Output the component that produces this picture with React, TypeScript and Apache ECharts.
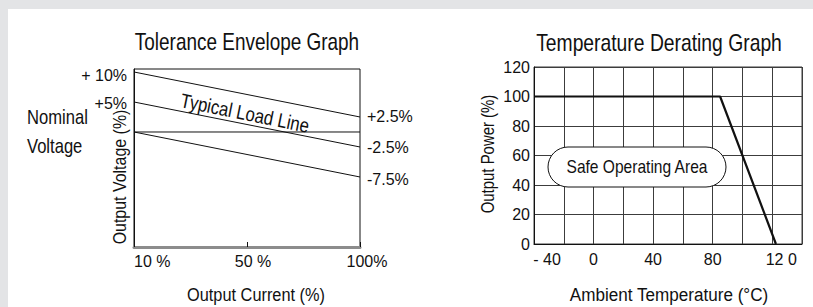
import React, { useEffect, useRef } from "react";
import * as echarts from "echarts";

// ---------- Data ----------
const currentCats = ["10 %", "50 %", "100%"];
const upperLimit = [10, 2.5];
const typicalLoad = [5, -2.5];
const nominal = [0, 0];
const lowerLimit = [0, -7.5];
const upperLabels = ["+ 10%", "+2.5%"];
const typicalLabels = ["+5%", "-2.5%"];
const lowerLabels = ["", "-7.5%"];

const deratingTemp = [-40, 85, 122.5];
const deratingPower = [100, 100, 0];
const tempTickLabels: Record<number, string> = { [-40]: "- 40", 0: "0", 40: "40", 80: "80", 120: "12 0" };

const REG = "'Liberation Sans', Arial, sans-serif";

function envSeries(vals: number[], labels: string[], leftOffset: number, rightOffset: number) {
  return {
    type: "line",
    xAxisIndex: 0,
    yAxisIndex: 0,
    symbol: "circle",
    symbolSize: 0,
    lineStyle: { color: "#111", width: 1 },
    itemStyle: { color: "#111" },
    silent: true,
    data: [
      {
        value: [0, vals[0]],
        label: labels[0]
          ? { show: true, position: "left", distance: 7, offset: [0, leftOffset], formatter: labels[0], color: "#111", fontSize: 16, fontFamily: REG }
          : { show: false },
      },
      {
        value: [2, vals[1]],
        label: labels[1]
          ? { show: true, position: "right", distance: 7, offset: [0, rightOffset], formatter: labels[1], color: "#111", fontSize: 16, fontFamily: REG }
          : { show: false },
      },
    ],
  };
}

function txt(text: string, x: number, y: number, size: number, scale: number, rotation = 0, align = "center") {
  return {
    type: "text",
    x,
    y,
    rotation,
    scaleX: scale,
    silent: true,
    z: 101,
    style: { text, fill: "#111", font: `${size}px ${REG}`, align, verticalAlign: "middle" },
  };
}

export default function App() {
  const ref = useRef<HTMLDivElement>(null);
  useEffect(() => {
    if (!ref.current) return;
    const chart = echarts.init(ref.current, undefined, { renderer: "svg" });
    const gridColor = "#3c3c3c";
    chart.setOption({
      animation: false,
      backgroundColor: "#ffffff",
      grid: [
        { left: 134, top: 69, width: 226, height: 178, show: true, borderColor: "#111", borderWidth: 1, containLabel: false },
        { left: 534, top: 67, width: 268, height: 177, show: true, borderColor: gridColor, borderWidth: 1, containLabel: false },
      ],
      xAxis: [
        {
          gridIndex: 0,
          type: "category",
          boundaryGap: false,
          data: [
            { value: currentCats[0], textStyle: { align: "left" } },
            { value: currentCats[1], textStyle: { padding: [0, 0, 0, 12] } },
            { value: currentCats[2], textStyle: { padding: [0, 0, 0, 14] } },
          ],
          axisLine: { show: true, onZero: false, lineStyle: { color: "#8c8c8c", width: 3 } },
          axisTick: { show: true, inside: true, length: 5, lineStyle: { color: "#111", width: 1 } },
          axisLabel: { color: "#111", fontSize: 16, fontFamily: REG, margin: 6 },
          splitLine: { show: false },
        },
        {
          gridIndex: 1,
          type: "value",
          min: -40,
          max: 140,
          interval: 20,
          axisLine: { show: true, onZero: false, lineStyle: { color: "#111", width: 1 } },
          axisTick: { show: false },
          splitLine: { show: true, lineStyle: { color: gridColor, width: 1 } },
          axisLabel: {
            color: "#111",
            fontSize: 16,
            fontFamily: REG,
            margin: 7,
            formatter: (v: number) => {
              const s = tempTickLabels[v];
              if (s === undefined) return "";
              if (v === -40) return "{a|" + s + "}";
              if (v === 120) return "{b|" + s + "}";
              return s;
            },
            rich: {
              a: { padding: [0, 0, 0, 26], fontSize: 16, fontFamily: REG, color: "#111" },
              b: { padding: [0, 0, 0, 18], fontSize: 16, fontFamily: REG, color: "#111" },
            },
          },
        },
      ],
      yAxis: [
        {
          gridIndex: 0,
          type: "value",
          min: -19.17,
          max: 10.5,
          axisLine: { show: true, onZero: false, lineStyle: { color: "#111", width: 1 } },
          axisTick: { show: false },
          axisLabel: { show: false },
          splitLine: { show: false },
        },
        {
          gridIndex: 1,
          type: "value",
          min: 0,
          max: 120,
          interval: 20,
          axisLine: { show: true, onZero: false, lineStyle: { color: "#111", width: 1 } },
          axisTick: { show: false },
          splitLine: { show: true, lineStyle: { color: gridColor, width: 1 } },
          axisLabel: { color: "#111", fontSize: 16, fontFamily: REG, margin: 4 },
        },
      ],
      series: [
        envSeries(upperLimit, upperLabels, 4, 0),
        envSeries(typicalLoad, typicalLabels, 2, 1),
        envSeries(nominal, ["", ""], 0, 0),
        envSeries(lowerLimit, lowerLabels, 0, 3),
        {
          type: "line",
          xAxisIndex: 1,
          yAxisIndex: 1,
          showSymbol: false,
          silent: true,
          lineStyle: { color: "#111", width: 2.2 },
          data: deratingTemp.map((t, i) => [t, deratingPower[i]]),
        },
      ],
      graphic: [
        { type: "rect", shape: { x: 0, y: 0, width: 813, height: 9 }, style: { fill: "#e3e4e6" }, silent: true },
        { type: "rect", shape: { x: 0, y: 0, width: 8, height: 307 }, style: { fill: "#e3e4e6" }, silent: true },
        txt("Tolerance Envelope Graph", 247, 42, 24, 0.79),
        txt("Nominal", 27, 117, 20, 0.83, 0, "left"),
        txt("Voltage", 27, 146, 20, 0.83, 0, "left"),
        txt("Output Voltage (%)", 120, 177, 19, 0.84, Math.PI / 2),
        txt("Typical Load Line", 245, 113, 20, 0.84, -0.2),
        txt("Output Current (%)", 256, 295, 19, 0.86),
        txt("Temperature Derating Graph", 659, 43, 24, 0.805),
        txt("Output Power (%)", 488, 154, 18, 0.83, Math.PI / 2),
        txt("Ambient Temperature (°C)", 669, 295, 19, 0.9),
        { type: "rect", z: 100, silent: true, shape: { x: 548, y: 147, width: 178, height: 40, r: 20 }, style: { fill: "#ffffff", stroke: "#111", lineWidth: 1 } },
        txt("Safe Operating Area", 637, 167, 18, 0.865),
      ],
    });
    return () => chart.dispose();
  }, []);
  return <div ref={ref} style={{ position: "fixed", left: 0, top: 0, width: 813, height: 307 }} />;
}
